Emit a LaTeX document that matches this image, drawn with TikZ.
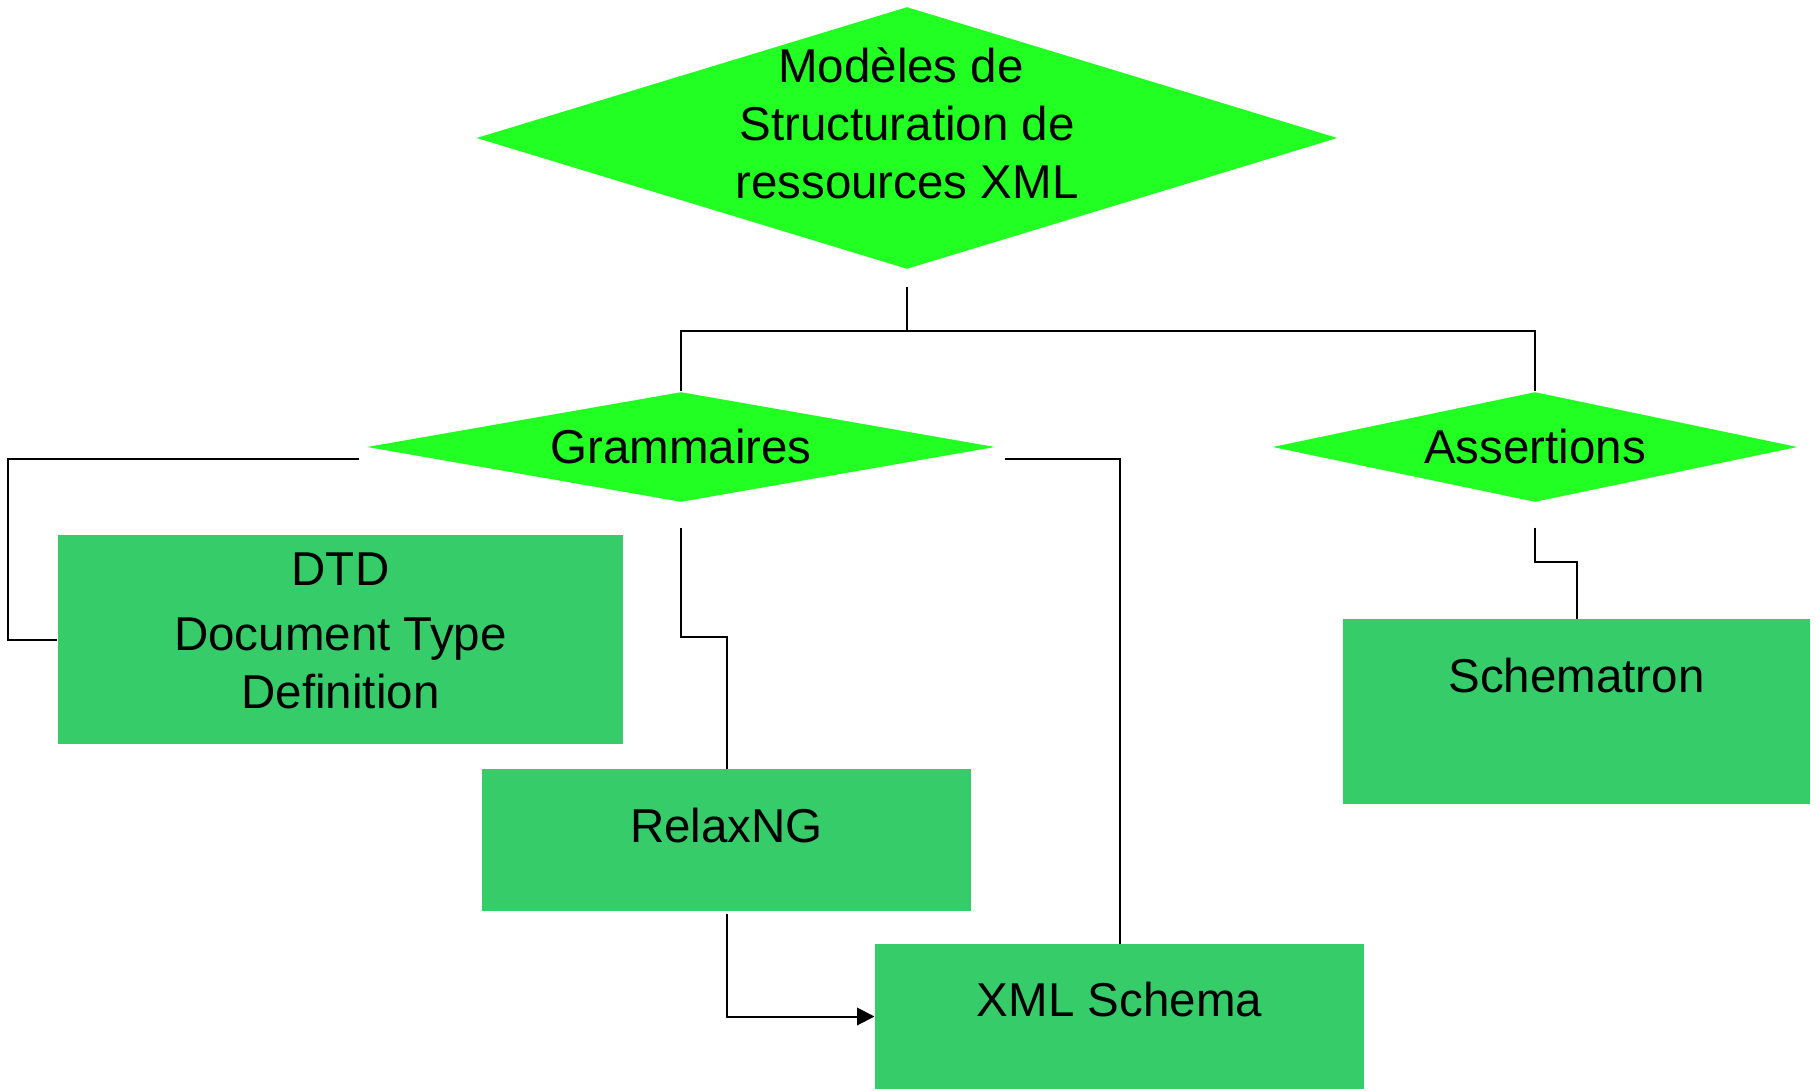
\documentclass[tikz,border=0pt]{standalone}
\usepackage{fontspec}
\setmainfont{Liberation Sans}
\usetikzlibrary{shapes.geometric,arrows.meta,calc}
\definecolor{diamondgreen}{RGB}{34,255,34}
\definecolor{boxgreen}{RGB}{55,204,106}
\begin{document}
\begin{tikzpicture}[x=0.4pt,y=-0.4pt,
  choice/.style={diamond,fill=diamondgreen,draw=none,inner sep=0pt,aspect=1},
  modelbox/.style={rectangle,fill=boxgreen,draw=none,inner sep=0pt},
  caption/.style={font=\fontsize{19}{23}\selectfont,anchor=base,inner sep=0pt},
  link/.style={draw=black,line width=0.8pt}]
\useasboundingbox (0,0) rectangle (1817,1091);

% root diamond
\node[choice,minimum width=344.4pt,minimum height=104.8pt] (root) at (907,138) {};
\node[caption] (rootA) at (901,83) {Modèles de};
\node[caption] (rootB) at (907,141) {Structuration de};
\node[caption] (rootC) at (907,199) {ressources XML};

% second level
\node[choice,minimum width=251.2pt,minimum height=44pt] (gram) at (681,447) {};
\node[caption] (gramT) at (681,463) {Grammaires};
\node[choice,minimum width=210pt,minimum height=44pt] (assert) at (1535,447) {};
\node[caption] (assertT) at (1535,463) {Assertions};

% languages
\node[modelbox,minimum width=226pt,minimum height=83.6pt] (dtd) at (340.5,639.5) {};
\node[caption] (dtdA) at (340.5,585) {DTD};
\node[caption] (dtdB) at (340.5,650) {Document Type};
\node[caption] (dtdC) at (340.5,708) {Definition};

\node[modelbox,minimum width=195.6pt,minimum height=56.8pt] (relax) at (726.5,840) {};
\node[caption] (relaxT) at (726.5,842) {RelaxNG};

\node[modelbox,minimum width=195.6pt,minimum height=58pt] (xsd) at (1119.5,1016.5) {};
\node[caption] (xsdT) at (1119.5,1016) {XML Schema};

\node[modelbox,minimum width=186.8pt,minimum height=74pt] (schem) at (1576.5,711.5) {};
\node[caption] (schemT) at (1576.5,692) {Schematron};

% connectors
\draw[link] ($(root.south)+(0,18)$) -- ++(0,43) coordinate (split);
\draw[link] (gram.north) |- (split) -| (assert.north);
\draw[link] ($(gram.west)+(-8,12)$) -- ++(-350,0) |- (dtd.west);
\draw[link] ($(gram.south)+(0,25)$) -- ++(0,109) -| (relax.north);
\draw[link] ($(gram.east)+(9,12)$) -| (xsd.north);
\draw[link] ($(assert.south)+(0,25)$) -- ++(0,34) -| (schem.north);
\draw[link,-{Triangle[length=7pt,width=7pt]}] ($(relax.south)+(0,2)$) |- (xsd.west);
\end{tikzpicture}
\end{document}
